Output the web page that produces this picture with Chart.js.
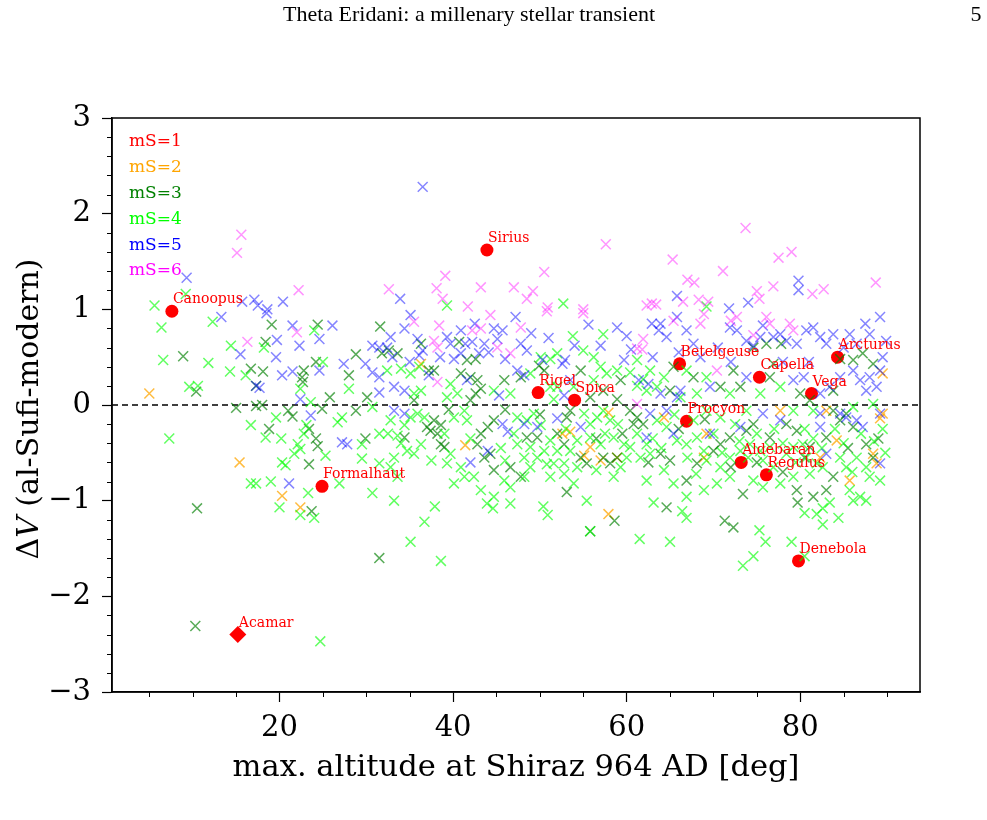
<!DOCTYPE html>
<html>
<head>
<meta charset="utf-8">
<script src="https://cdn.jsdelivr.net/npm/chart.js@4.4.0/dist/chart.umd.min.js"></script>
<style>
  html, body { margin: 0; padding: 0; background: #fff; }
  #wrap { width: 987px; height: 820px; position: relative; }
</style>
</head>
<body>
<div id="wrap"><canvas id="chart" width="987" height="820"></canvas></div>
<script>
// axis ranges and ticks
const xMin = 0.7, xMax = 93.8;
const xTickVals = [20, 40, 60, 80];
const xMinorVals = [5, 10, 15, 25, 30, 35, 45, 50, 55, 65, 70, 75, 85, 90];
const yTickVals = [-3, -2, -1, 0, 1, 2, 3];
const yMinorVals = [-2.8, -2.6, -2.4, -2.2, -1.8, -1.6, -1.4, -1.2, -0.8, -0.6, -0.4, -0.2,
                    0.2, 0.4, 0.6, 0.8, 1.2, 1.4, 1.6, 1.8, 2.2, 2.4, 2.6, 2.8];

// named bright stars (mS=1)
const starNames = ["Canoopus", "Sirius", "Rigel", "Spica", "Betelgeuse", "Capella", "Arcturus",
                   "Vega", "Procyon", "Aldebaran", "Regulus", "Formalhaut", "Denebola", "Acamar"];
const starAlt = [7.6, 43.9, 49.8, 54.0, 66.1, 75.3, 84.3, 81.3, 66.9, 73.2, 76.1, 24.9, 79.8, 15.2];
const starDV  = [0.98, 1.62, 0.13, 0.05, 0.43, 0.29, 0.50, 0.12, -0.17, -0.60, -0.73, -0.85, -1.63, -2.40];

// mS=2
const ms2 = [[5.0,0.12],[15.4,-0.60],[20.3,-0.95],[22.4,-1.07],[36.3,0.43],[41.4,-0.42],[52.6,-0.30],
  [55.1,-0.53],[55.8,-0.44],[57.0,-0.58],[58.9,-0.55],[57.9,-0.08],[57.9,-1.14],[64.3,-0.13],[68.9,-0.55],
  [69.2,-0.30],[77.7,-0.06],[83.0,-0.06],[84.2,-0.37],[82.3,-0.55],[89.2,-0.14],[85.7,-0.79],[89.5,0.33],
  [89.5,-0.09],[88.8,-0.61],[88.4,-0.51],[53.5,-0.28]];

// mS=3
const ms3 = [[19.1,0.84],[24.4,0.84],[31.6,0.82],[18.4,0.66],[8.9,0.51],[16.7,0.38],[18.1,0.35],[22.8,0.36],
  [24.2,0.45],[28.8,0.53],[28.0,0.31],[31.8,0.54],[10.4,0.14],[17.3,0.20],[22.6,0.29],[22.7,0.24],[25.8,0.08],
  [30.1,0.08],[15.0,-0.03],[17.3,-0.01],[18.0,0.0],[21.0,-0.06],[21.5,-0.12],[24.9,-0.04],[28.8,-0.06],
  [18.8,-0.25],[23.4,-0.25],[24.2,-0.35],[24.4,-0.43],[29.9,-0.35],[23.4,-0.62],[10.5,-1.08],[23.7,-1.11],
  [31.5,-1.60],[10.3,-2.31],[55.8,-1.32],[58.6,-1.21],[64.6,-1.07],[71.3,-1.21],[72.3,-1.28],[79.7,-1.02],
  [32.6,0.57],[33.6,0.54],[36.3,0.64],[40.7,0.66],[41.6,0.47],[42.6,0.48],[49.9,0.41],[50.5,0.36],[54.7,0.36],
  [37.2,0.36],[37.8,0.36],[40.9,0.33],[42.0,0.29],[42.8,0.26],[43.2,0.17],[42.6,0.12],[42.0,0.05],[45.9,0.26],
  [47.8,0.29],[55.8,0.08],[58.9,0.06],[57.3,0.15],[59.3,0.26],[34.4,-0.34],[37.0,-0.23],[37.8,-0.16],
  [38.6,-0.21],[38.2,-0.30],[37.4,-0.27],[38.6,-0.41],[39.0,-0.44],[44.0,-0.23],[44.7,-0.16],[43.2,-0.30],
  [42.8,-0.41],[43.6,-0.55],[44.3,-0.51],[44.7,-0.68],[47.8,-0.75],[46.6,-0.65],[48.5,-0.34],[49.7,-0.34],
  [52.8,-0.41],[53.1,-0.13],[53.5,-0.06],[53.1,-0.91],[54.7,-0.55],[55.4,-0.61],[57.3,-0.55],[58.9,-0.55],
  [58.1,-0.61],[60.4,-0.06],[61.2,-0.13],[60.8,-0.20],[61.9,-0.20],[74.6,0.60],[76.1,0.64],[76.9,0.43],
  [77.8,0.64],[84.6,0.48],[86.1,0.47],[87.2,0.54],[88.4,0.43],[76.5,0.29],[73.1,0.19],[70.8,0.19],[67.7,0.29],
  [65.4,0.40],[65.0,0.15],[72.3,0.36],[80.0,0.12],[81.1,0.05],[83.8,0.15],[63.9,-0.51],[65.0,-0.58],
  [66.9,-0.79],[68.1,-0.61],[70.0,-0.48],[70.8,-0.41],[71.9,-0.34],[73.8,-0.27],[74.6,-0.20],[76.5,-0.34],
  [78.4,-0.20],[79.6,-0.27],[81.1,-0.44],[83.0,-0.34],[83.8,-0.06],[84.6,-0.16],[85.3,-0.09],[86.1,-0.23],
  [87.6,-0.41],[88.4,-0.55],[83.8,-0.75],[83.0,-0.89],[81.5,-0.96],[79.6,-0.89],[73.4,-0.93],
  [35.5,0.05],[39.5,-0.05],[46.0,-0.05],[50.0,-0.10],[52.0,-0.30],[56.5,-0.35],[59.5,-0.30],[62.5,-0.60],
  [66.0,-0.25],[69.0,-0.15],[72.0,-0.65],[75.0,-0.60],[78.0,-0.70],[80.5,-0.55],[85.5,-0.45],[89.0,-0.35]];

// mS=4
const ms4 = [[9.2,1.16],[5.6,1.04],[39.3,1.04],[52.7,1.06],[69.2,1.03],[6.4,0.81],[12.3,0.87],[24.0,0.78],
  [14.4,0.62],[18.2,0.60],[6.6,0.47],[11.8,0.44],[14.3,0.35],[16.1,0.31],[25.0,0.45],[9.6,0.19],[10.6,0.20],
  [22.4,0.17],[28.0,0.17],[23.6,0.03],[19.6,-0.13],[27.2,-0.13],[26.7,-0.18],[30.7,-0.02],[16.7,-0.21],
  [18.4,-0.34],[20.2,-0.35],[7.3,-0.35],[22.1,-0.41],[22.8,-0.30],[23.1,-0.21],[25.3,-0.53],[31.5,-0.30],
  [29.5,-0.41],[21.7,-0.51],[22.4,-0.46],[20.3,-0.60],[20.7,-0.63],[29.5,-0.56],[31.5,-0.61],[16.7,-0.82],
  [17.3,-0.82],[19.0,-0.80],[23.3,-0.92],[26.9,-0.82],[30.7,-0.92],[20.0,-1.07],[22.4,-1.15],[24.0,-1.18],
  [24.7,-2.47],[33.2,-1.0],[37.9,-1.06],[36.7,-1.22],[35.1,-1.43],[38.6,-1.63],[43.9,-1.03],[44.6,-1.08],
  [46.6,-1.03],[50.4,-1.06],[50.9,-1.15],[55.4,-1.0],[55.8,-1.32],[61.5,-1.40],[63.1,-1.02],[66.4,-1.11],
  [66.9,-1.18],[65.0,-1.43],[75.3,-1.31],[76.0,-1.43],[74.6,-1.58],[73.4,-1.68],[79.0,-1.43],[80.5,-1.58],
  [80.5,-1.13],[81.9,-1.14],[82.6,-1.08],[83.4,-1.02],[82.6,-1.25],[84.4,-1.18],[86.1,-1.0],[87.6,-1.0],
  [57.3,0.74],[53.8,0.72],[52.0,0.54],[51.2,0.48],[55.0,0.57],[53.9,0.19],[52.0,0.19],[56.2,0.50],[57.0,0.40],
  [57.7,0.33],[58.9,0.36],[61.2,0.47],[62.7,0.36],[61.9,0.27],[32.4,0.36],[34.0,0.38],[35.1,0.33],[36.1,0.40],
  [35.5,0.12],[36.3,0.15],[39.7,0.22],[40.5,0.12],[39.3,0.08],[44.7,0.15],[46.6,0.12],[48.9,0.33],[50.1,0.50],
  [51.2,0.19],[51.6,0.06],[56.2,0.26],[61.2,0.20],[62.3,0.15],[60.4,0.34],[32.8,-0.16],[34.4,-0.21],
  [33.6,-0.32],[32.5,-0.30],[35.1,-0.13],[35.9,-0.09],[36.7,-0.13],[36.3,-0.41],[35.5,-0.51],[34.7,-0.48],
  [33.2,-0.55],[32.8,-0.65],[33.6,-0.75],[40.1,-0.13],[41.3,-0.06],[41.6,-0.16],[39.7,-0.51],[39.3,-0.61],
  [40.9,-0.65],[40.1,-0.82],[41.3,-0.75],[42.4,-0.75],[43.2,-0.89],[44.7,-0.96],[46.6,-0.86],[45.9,-0.79],
  [48.2,-0.75],[47.4,-0.13],[48.5,-0.16],[49.3,-0.09],[50.1,-0.21],[47.4,-0.41],[48.9,-0.44],[49.7,-0.55],
  [50.5,-0.48],[48.2,-0.55],[48.9,-0.65],[51.2,-0.37],[52.0,-0.48],[51.6,-0.61],[52.8,-0.61],[53.5,-0.48],
  [54.3,-0.37],[51.2,-0.75],[52.8,-0.72],[53.9,-0.82],[54.3,-0.65],[55.1,-0.09],[55.8,-0.20],[56.6,-0.13],
  [57.3,-0.06],[58.1,-0.16],[55.8,-0.34],[57.0,-0.41],[58.5,-0.34],[59.7,-0.41],[60.4,-0.44],[59.3,-0.65],
  [58.5,-0.75],[61.2,-0.30],[62.3,-0.41],[62.7,-0.51],[61.6,-0.55],[62.3,-0.79],[77.7,0.19],[75.4,0.12],
  [71.9,0.12],[69.2,0.29],[66.9,0.36],[64.3,0.29],[63.5,0.19],[66.2,0.08],[68.1,0.12],[63.5,-0.16],
  [64.6,-0.23],[65.8,-0.37],[66.9,-0.41],[68.1,-0.34],[68.9,-0.48],[69.2,-0.58],[70.8,-0.65],[71.9,-0.55],
  [73.1,-0.48],[74.2,-0.41],[75.4,-0.48],[76.5,-0.44],[75.7,-0.58],[76.9,-0.65],[78.4,-0.51],[79.2,-0.44],
  [80.3,-0.41],[80.7,-0.55],[81.9,-0.61],[81.1,-0.72],[82.6,-0.65],[84.6,-0.55],[85.3,-0.65],[86.5,-0.55],
  [87.6,-0.65],[88.0,-0.75],[89.2,-0.79],[88.4,0.01],[86.1,-0.02],[81.5,-0.06],[79.2,-0.06],[73.8,-0.06],
  [70.8,-0.13],[69.2,-0.06],[67.7,-0.16],[64.3,-0.68],[65.4,-0.82],[66.9,-0.96],[68.9,-0.89],[70.4,-0.82],
  [71.9,-0.75],[74.6,-0.79],[75.7,-0.86],[77.7,-0.82],[79.2,-0.75],[85.7,-0.89],[86.9,-0.96],
  [34.0,-0.40],[37.5,-0.58],[39.0,-0.30],[42.0,-0.35],[45.5,-0.45],[46.0,-0.58],[47.0,-0.30],[50.8,-0.62],
  [53.0,-0.25],[56.5,-0.68],[57.5,-0.30],[59.0,-0.20],[60.0,-0.55],[63.0,-0.35],[64.0,-0.45],[65.5,-0.10],
  [67.0,-0.55],[68.0,-0.72],[70.0,-0.30],[71.0,-0.50],[72.5,-0.20],[73.0,-0.38],[74.0,-0.55],[75.0,-0.30],
  [77.0,-0.25],[78.0,-0.40],[79.5,-0.60],[80.5,-0.25],[81.5,-0.35],[82.5,-0.45],[84.0,-0.25],[85.0,-0.40],
  [86.0,-0.70],[87.0,-0.30],[88.5,-0.38],[89.5,-0.25],[89.8,-0.50]];

// mS=5
const ms5 = [[9.3,1.33],[15.7,1.08],[17.1,1.10],[17.5,1.04],[18.6,1.0],[20.4,1.08],[36.5,2.28],[33.9,1.11],
  [79.8,1.30],[79.8,1.20],[65.8,1.14],[74.0,1.07],[71.8,1.01],[13.3,0.92],[18.5,0.96],[21.5,0.83],[26.1,0.83],
  [24.6,0.69],[15.5,0.53],[19.7,0.68],[22.3,0.62],[19.6,0.50],[20.3,0.31],[21.5,0.35],[24.6,0.36],[27.4,0.43],
  [29.9,0.43],[30.7,0.34],[31.5,0.29],[30.7,0.62],[31.5,0.60],[17.3,0.20],[17.7,0.18],[22.4,0.06],[31.5,0.13],
  [23.6,-0.11],[27.2,-0.39],[27.8,-0.41],[21.1,-0.82],[35.1,0.94],[34.4,0.80],[40.9,0.78],[44.7,0.80],
  [45.7,0.78],[47.2,0.92],[55.6,0.84],[58.9,0.81],[60.0,0.72],[62.9,0.85],[32.8,0.71],[32.4,0.60],[35.9,0.69],
  [36.5,0.57],[36.1,0.52],[39.3,0.71],[39.7,0.64],[41.4,0.64],[42.2,0.66],[40.9,0.54],[43.0,0.54],[40.1,0.48],
  [45.1,0.69],[44.1,0.55],[43.6,0.64],[47.8,0.64],[48.5,0.57],[52.9,0.47],[52.6,0.43],[53.5,0.26],[52.8,0.10],
  [59.7,0.47],[61.4,0.26],[62.5,0.22],[37.2,0.31],[33.2,0.19],[34.4,0.15],[41.6,0.26],[45.3,0.10],[47.4,0.36],
  [48.2,0.31],[50.3,0.47],[33.2,-0.06],[34.4,-0.09],[42.0,-0.60],[44.0,-0.48],[45.7,-0.20],[46.3,-0.28],
  [48.2,-0.20],[49.7,-0.23],[54.7,-0.23],[52.0,-0.14],[62.3,-0.34],[62.7,-0.09],[63.9,0.85],[65.8,0.92],
  [64.6,0.71],[63.7,0.78],[66.9,0.78],[67.7,0.64],[71.9,0.81],[72.7,0.78],[73.8,0.67],[74.6,0.62],[75.4,0.71],
  [75.7,0.83],[76.9,0.71],[77.7,0.74],[78.4,0.67],[79.6,0.64],[80.7,0.78],[81.5,0.81],[82.3,0.71],[83.0,0.64],
  [83.8,0.74],[85.7,0.74],[86.5,0.64],[88.0,0.74],[89.2,0.92],[89.9,0.67],[86.1,0.36],[86.9,0.26],[88.0,0.29],
  [88.8,0.19],[89.2,0.36],[87.6,0.15],[84.6,0.29],[83.4,0.19],[82.3,0.12],[80.4,0.29],[79.2,0.26],[69.6,0.19],
  [73.8,0.29],[63.9,0.12],[65.8,0.08],[66.2,0.15],[64.6,-0.06],[65.4,-0.30],[69.6,-0.30],[73.1,-0.23],
  [75.7,-0.09],[77.7,-0.16],[82.3,-0.09],[84.6,-0.09],[85.3,-0.13],[86.5,-0.16],[87.2,-0.23],[89.2,-0.09],
  [89.2,-0.61],[82.3,-0.23],[83.0,-0.51],
  [33.0,0.50],[35.0,0.45],[38.5,0.50],[42.5,0.85],[46.0,0.48],[49.0,0.75],[51.0,0.70],[54.0,0.62],[57.0,0.62],
  [60.5,0.58],[63.0,0.50],[66.0,0.55],[68.5,0.50],[70.5,0.60],[72.0,0.45],[78.0,0.45],[81.0,0.45],[85.0,0.60],
  [87.5,0.85],[89.5,0.50]];

// mS=6
const ms6 = [[15.6,1.78],[15.1,1.59],[22.2,1.20],[16.3,0.66],[22.0,0.76],[57.6,1.68],[50.5,1.39],[39.1,1.35],
  [38.1,1.22],[32.6,1.21],[43.2,1.23],[47.0,1.23],[49.2,1.19],[48.5,1.11],[38.8,1.11],[41.7,1.03],[50.9,1.02],
  [55.0,1.0],[62.3,1.04],[62.9,1.06],[73.7,1.85],[65.3,1.52],[79.0,1.60],[77.5,1.54],[71.1,1.40],[67.0,1.31],
  [67.8,1.28],[88.7,1.28],[76.9,1.24],[82.7,1.21],[81.4,1.16],[75.0,1.19],[75.3,1.11],[66.5,1.08],[68.3,1.10],
  [69.4,1.08],[63.4,1.05],[35.5,0.87],[38.4,0.83],[42.2,0.78],[43.2,0.80],[44.3,0.94],[47.8,0.81],[50.8,0.98],
  [55.0,0.96],[61.9,0.69],[61.2,0.59],[61.8,0.58],[37.8,0.67],[38.2,0.60],[45.1,0.60],[46.6,0.54],[38.2,0.24],
  [61.2,0.01],[65.4,0.88],[68.5,0.85],[68.9,0.95],[72.0,0.88],[72.7,0.92],[74.6,0.73],[76.1,0.92],[76.5,0.85],
  [78.8,0.85],[79.2,0.78],[70.4,0.36]];

const legendLabels = ["mS=1", "mS=2", "mS=3", "mS=4", "mS=5", "mS=6"];
const legendColors = ["#ff0000", "#ffa500", "#008000", "#00ff00", "#0000ff", "#ff00ff"];

const serif = "'DejaVu Serif', serif";
const toPts = arr => arr.map(([x, y]) => ({x: x, y: y}));

function crossSet(label, data, color, order) {
  return {
    label: label, data: toPts(data), pointStyle: 'crossRot', pointRadius: 7,
    pointBorderWidth: 1.5, borderColor: color, backgroundColor: color, order: order
  };
}

const decor = {
  id: 'decor',
  afterDraw(chart) {
    const ctx = chart.ctx, a = chart.chartArea;
    const xs = chart.scales.x, ys = chart.scales.y;
    ctx.save();
    // frame
    ctx.strokeStyle = '#000';
    ctx.lineWidth = 1.5;
    ctx.strokeRect(a.left, a.top, a.right - a.left, a.bottom - a.top);
    // minor ticks
    ctx.lineWidth = 1;
    ctx.beginPath();
    xMinorVals.forEach(v => {
      const px = Math.round(xs.getPixelForValue(v)) + 0.5;
      ctx.moveTo(px, a.bottom); ctx.lineTo(px, a.bottom + 5);
    });
    yMinorVals.forEach(v => {
      const py = Math.round(ys.getPixelForValue(v)) + 0.5;
      ctx.moveTo(a.left, py); ctx.lineTo(a.left - 5, py);
    });
    ctx.stroke();

    // star labels
    ctx.fillStyle = '#ff0000';
    ctx.font = "14px " + serif;
    ctx.textAlign = 'left';
    ctx.textBaseline = 'alphabetic';
    starNames.forEach((n, i) => {
      ctx.fillText(n, xs.getPixelForValue(starAlt[i]) + 1, ys.getPixelForValue(starDV[i]) - 8);
    });

    // legend (text only)
    ctx.font = "17px " + serif;
    ctx.textBaseline = 'middle';
    legendLabels.forEach((t, i) => {
      ctx.fillStyle = legendColors[i];
      ctx.fillText(t, 129, 142 + i * 25.8);
    });

    // x title
    ctx.fillStyle = '#000';
    ctx.font = "30.5px " + serif;
    ctx.textAlign = 'center';
    ctx.fillText("max. altitude at Shiraz 964 AD [deg]", (a.left + a.right) / 2, 768);

    // y title with italic V
    ctx.translate(30, 409);
    ctx.rotate(-Math.PI / 2);
    const parts = [["Δ", "30px " + serif], ["V", "italic 30px " + serif], [" (al-Sufi-modern)", "30px " + serif]];
    let total = 0;
    parts.forEach(p => { ctx.font = p[1]; total += ctx.measureText(p[0]).width; });
    let cx = -total / 2;
    ctx.textAlign = 'left';
    parts.forEach(p => { ctx.font = p[1]; ctx.fillText(p[0], cx, 0); cx += ctx.measureText(p[0]).width; });
    ctx.restore();

    // page header
    ctx.save();
    ctx.fillStyle = '#000';
    ctx.font = "22px 'Liberation Serif', serif";
    ctx.textBaseline = 'middle';
    ctx.textAlign = 'center';
    ctx.fillText("Theta Eridani: a millenary stellar transient", 469, 15);
    ctx.fillText("5", 976, 15);
    ctx.restore();
  }
};

const ctx = document.getElementById('chart').getContext('2d');
new Chart(ctx, {
  type: 'scatter',
  data: {
    datasets: [
      crossSet('mS=6', ms6, 'rgba(255,0,255,0.42)', 1),
      crossSet('mS=5', ms5, 'rgba(0,0,255,0.48)', 1),
      crossSet('mS=4', ms4, 'rgba(0,255,0,0.62)', 1),
      crossSet('mS=3', ms3, 'rgba(0,128,0,0.66)', 1),
      crossSet('mS=2', ms2, 'rgba(255,165,0,0.75)', 1),
      {
        label: 'mS=1', data: starAlt.map((v, i) => ({x: v, y: starDV[i]})),
        pointStyle: ctx => starNames[ctx.dataIndex] === 'Acamar' ? 'rectRot' : 'circle',
        pointRadius: ctx => starNames[ctx.dataIndex] === 'Acamar' ? 8.5 : 6.5,
        backgroundColor: '#ff0000', borderColor: '#ff0000', pointBorderWidth: 0, order: 5
      },
      {
        label: 'zero', data: [{x: xMin, y: 0}, {x: xMax, y: 0}], showLine: true,
        borderColor: '#000', borderWidth: 1.5, borderDash: [6, 4], pointRadius: 0, order: 10
      }
    ]
  },
  options: {
    responsive: false,
    animation: false,
    devicePixelRatio: 1,
    layout: { padding: { top: 118, right: 67, left: 0, bottom: 0 } },
    plugins: { legend: { display: false }, tooltip: { enabled: false } },
    scales: {
      x: {
        type: 'linear', min: xMin, max: xMax,
        afterBuildTicks: s => { s.ticks = xTickVals.map(v => ({value: v})); },
        afterFit: s => { s.height = 128; },
        ticks: { font: { family: 'DejaVu Serif', size: 29 }, color: '#000', padding: 9, maxRotation: 0, autoSkip: false },
        grid: { drawOnChartArea: false, tickLength: 10, tickWidth: 1.2, tickColor: '#000' },
        border: { color: '#000', width: 1.5 }
      },
      y: {
        type: 'linear', min: -3, max: 3,
        afterBuildTicks: s => { s.ticks = yTickVals.map(v => ({value: v})); },
        afterFit: s => { s.width = 112; },
        ticks: {
          font: { family: 'DejaVu Serif', size: 29 }, color: '#000', padding: 11, autoSkip: false,
          callback: v => v < 0 ? '\u2212' + Math.abs(v) : String(v)
        },
        grid: { drawOnChartArea: false, tickLength: 10, tickWidth: 1.2, tickColor: '#000' },
        border: { color: '#000', width: 1.5 }
      }
    }
  },
  plugins: [decor]
});
</script>
</body>
</html>
